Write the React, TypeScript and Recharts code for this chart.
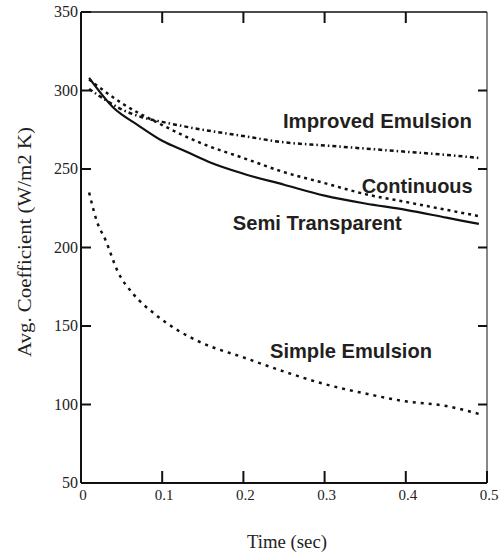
import { LineChart, Line, XAxis, YAxis, ReferenceDot } from 'recharts';

// time (sec) and avg. coefficient (W/m2 K)
const semiTime = [0.01, 0.04, 0.07, 0.1, 0.13, 0.16, 0.2, 0.25, 0.3, 0.35, 0.4, 0.45, 0.49];
const semiValue = [308, 289, 278, 268, 261, 254, 247, 240, 233, 228, 224, 219, 215];

const contTime = [0.01, 0.02, 0.05, 0.1, 0.15, 0.2, 0.25, 0.3, 0.35, 0.4, 0.45, 0.49];
const contValue = [307, 303, 292, 278, 266, 257, 248, 241, 234, 229, 224, 220];

const improvedTime = [0.01, 0.03, 0.05, 0.075, 0.1, 0.15, 0.2, 0.25, 0.3, 0.35, 0.4, 0.45, 0.49];
const improvedValue = [301, 294, 288, 283, 280, 275, 271, 267, 265, 263, 261, 259, 257];

const simpleTime = [0.01, 0.02, 0.03, 0.045, 0.065, 0.09, 0.12, 0.15, 0.2, 0.25, 0.3, 0.35, 0.4, 0.45, 0.49];
const simpleValue = [235, 216, 205, 185, 170, 158, 147, 139, 130, 121, 113, 107, 102, 99, 94];

const xTicks = [0, 0.1, 0.2, 0.3, 0.4, 0.5];
const yTicks = [50, 100, 150, 200, 250, 300, 350];

// curve labels: text, position in data units, drawn width
const labelText = ['Improved Emulsion', 'Continuous', 'Semi Transparent', 'Simple Emulsion'];
const labelTime = [0.365, 0.414, 0.291, 0.3325];
const labelValue = [281, 240, 216.5, 134.5];
const labelWidth = [189, 111, 169, 162];

const toRows = (t: number[], v: number[]) => t.map((x, i) => ({ t: x, v: v[i] }));

const serif = '"Liberation Serif", "Times New Roman", serif';
const sans = '"Liberation Sans", Arial, sans-serif';
const ink = '#111';

const LeftTick = (props: any) => {
  const { x, y, payload } = props;
  return (
    <g>
      <line x1={x} x2={x + 10} y1={y} y2={y} stroke={ink} strokeWidth={2} />
      <text x={x - 3} y={y + 5} textAnchor="end" fontFamily={serif} fontSize={16} fill="#222">
        {payload.value}
      </text>
    </g>
  );
};

const BottomTick = (props: any) => {
  const { x, y, payload } = props;
  return (
    <g>
      <line x1={x} x2={x} y1={y} y2={y - 12} stroke={ink} strokeWidth={2} />
      <text x={x + 2} y={y + 17} textAnchor="middle" fontFamily={serif} fontSize={15} fill="#222">
        {payload.value}
      </text>
    </g>
  );
};

const RightTick = (props: any) => {
  const { x, y } = props;
  return <line x1={x} x2={x - 9} y1={y} y2={y} stroke={ink} strokeWidth={2} />;
};

const TopTick = (props: any) => {
  const { x, y } = props;
  return <line x1={x} x2={x} y1={y} y2={y + 11} stroke={ink} strokeWidth={2} />;
};

export default function App() {
  return (
    <div style={{ position: 'absolute', left: 0, top: 0, background: '#fff' }}>
      <LineChart width={504} height={557} margin={{ top: 11, right: 16, bottom: 44, left: 21 }}>
        <XAxis
          xAxisId="b"
          type="number"
          dataKey="t"
          domain={[0, 0.5]}
          ticks={xTicks}
          tickSize={0}
          tickMargin={0}
          height={30}
          tickLine={false}
          axisLine={{ stroke: ink, strokeWidth: 2 }}
          tick={<BottomTick />}
          label={{
            content: (p: any) => (
              <text
                x={p.viewBox.x + p.viewBox.width / 2 + 3}
                y={p.viewBox.y + 65}
                textAnchor="middle"
                fontFamily={serif}
                fontSize={19}
                textLength={80}
                lengthAdjust="spacingAndGlyphs"
                fill="#222"
              >
                Time (sec)
              </text>
            ),
          }}
        />
        <XAxis
          xAxisId="top"
          orientation="top"
          type="number"
          dataKey="t"
          domain={[0, 0.5]}
          ticks={xTicks.slice(1, -1)}
          interval={0}
          tickSize={0}
          tickMargin={0}
          height={1}
          tickLine={false}
          axisLine={{ stroke: ink, strokeWidth: 1.5 }}
          tick={<TopTick />}
        />
        <YAxis
          yAxisId="l"
          type="number"
          domain={[50, 350]}
          ticks={yTicks}
          tickSize={0}
          tickMargin={0}
          width={60}
          tickLine={false}
          axisLine={{ stroke: ink, strokeWidth: 2 }}
          tick={<LeftTick />}
          label={{
            content: () => (
              <text
                transform="translate(31, 242) rotate(-90)"
                textAnchor="middle"
                fontFamily={serif}
                fontSize={18}
                textLength={230}
                lengthAdjust="spacingAndGlyphs"
                fill="#222"
              >
                Avg. Coefficient (W/m2 K)
              </text>
            ),
          }}
        />
        <YAxis
          yAxisId="r"
          orientation="right"
          type="number"
          domain={[50, 350]}
          ticks={yTicks.slice(1, -1)}
          interval={0}
          tickSize={0}
          tickMargin={0}
          width={1}
          tickLine={false}
          axisLine={{ stroke: ink, strokeWidth: 1 }}
          tick={<RightTick />}
        />

        {/* invisible copy so the mirrored top/right axes get a scale */}
        <Line
          xAxisId="top"
          yAxisId="r"
          data={toRows(semiTime, semiValue)}
          dataKey="v"
          stroke="none"
          dot={false}
          activeDot={false}
          isAnimationActive={false}
        />

        <Line
          xAxisId="b"
          yAxisId="l"
          data={toRows(improvedTime, improvedValue)}
          dataKey="v"
          type="monotone"
          stroke={ink}
          strokeWidth={2.5}
          strokeDasharray="4 3 1.5 3"
          dot={false}
          isAnimationActive={false}
        />
        <Line
          xAxisId="b"
          yAxisId="l"
          data={toRows(contTime, contValue)}
          dataKey="v"
          type="monotone"
          stroke={ink}
          strokeWidth={2.5}
          strokeDasharray="3 4"
          dot={false}
          isAnimationActive={false}
        />
        <Line
          xAxisId="b"
          yAxisId="l"
          data={toRows(semiTime, semiValue)}
          dataKey="v"
          type="monotone"
          stroke={ink}
          strokeWidth={2.2}
          dot={false}
          isAnimationActive={false}
        />
        <Line
          xAxisId="b"
          yAxisId="l"
          data={toRows(simpleTime, simpleValue)}
          dataKey="v"
          type="monotone"
          stroke={ink}
          strokeWidth={2.5}
          strokeDasharray="3 5"
          dot={false}
          isAnimationActive={false}
        />

        {labelText.map((txt, i) => (
          <ReferenceDot
            key={txt}
            xAxisId="b"
            yAxisId="l"
            x={labelTime[i]}
            y={labelValue[i]}
            r={1}
            shape={(p: any) => (
              <text
                x={p.cx}
                y={p.cy + 8}
                textAnchor="middle"
                fontFamily={sans}
                fontWeight="bold"
                fontSize={21}
                textLength={labelWidth[i]}
                lengthAdjust="spacingAndGlyphs"
                fill="#231f20"
              >
                {txt}
              </text>
            )}
          />
        ))}
      </LineChart>
    </div>
  );
}
